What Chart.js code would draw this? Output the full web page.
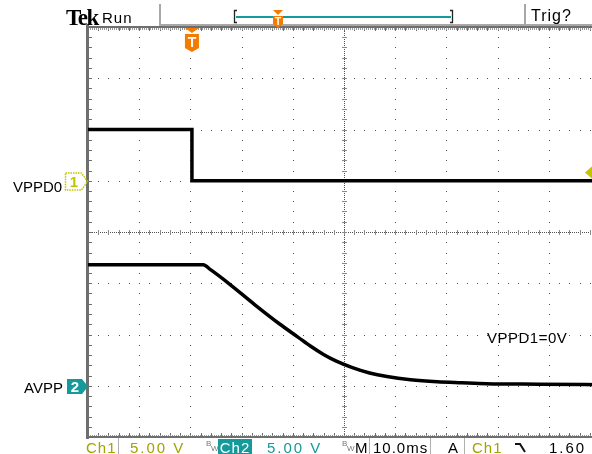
<!DOCTYPE html>
<html>
<head>
<meta charset="utf-8">
<script src="https://cdn.jsdelivr.net/npm/chart.js@4/dist/chart.umd.min.js"></script>
<style>
  body { margin: 0; width: 592px; height: 454px; overflow: hidden; background: #fff; position: relative;
         font-family: "Liberation Sans", Arial, sans-serif; }
  #scope { position: absolute; left: 0; top: 0; }
  .t { position: absolute; white-space: nowrap; line-height: 1; font-size: 15px; }
  .olive { color: #a3a300; }
  .teal { color: #149a9a; }
  .bw { position: absolute; font-size: 8px; line-height: 1; color: #777; }
</style>
</head>
<body>
<canvas id="scope" width="620" height="454"></canvas>

<div class="t" style="left:66px;top:5px;font:bold 23px 'Liberation Serif',serif;letter-spacing:-1.5px">Tek</div>
<div class="t" style="left:102px;top:10px;letter-spacing:1px">Run</div>
<div class="t" style="left:531px;top:8px;font-size:16px;letter-spacing:1px">Trig?</div>

<div class="t" style="left:13px;top:179px">VPPD0</div>
<div class="t" style="left:24px;top:380px">AVPP</div>
<div class="t" style="left:487px;top:330px;letter-spacing:0.5px">VPPD1=0V</div>

<div class="t olive" style="left:86px;top:440px;letter-spacing:1px">Ch1</div>
<div class="t olive" style="left:130px;top:440px;letter-spacing:2px">5.00 V</div>
<span class="bw" style="left:206px;top:440px">B</span><span class="bw" style="left:211px;top:445px">W</span>
<div class="t" style="left:218px;top:439px;width:34px;height:15px;background:#149a9a;color:#fff;text-align:center;padding-top:1px;box-sizing:border-box;letter-spacing:1px">Ch2</div>
<div class="t teal" style="left:267px;top:440px;letter-spacing:2px">5.00 V</div>
<span class="bw" style="left:342px;top:440px">B</span><span class="bw" style="left:347px;top:445px">W</span>
<div class="t" style="left:355px;top:440px">M</div>
<div class="t" style="left:373px;top:440px;letter-spacing:1px">10.0ms</div>
<div class="t" style="left:448px;top:440px">A</div>
<div class="t olive" style="left:472px;top:440px;letter-spacing:1px">Ch1</div>
<div class="t" style="left:549px;top:440px;letter-spacing:2px">1.60 V</div>

<script>
  'use strict';

  // Horizontal: 10 divisions of 10.0 ms, vertical: 8 divisions.
  var timeMin = 0;
  var timeMax = 100;
  var divMin = -4;
  var divMax = 4;

  // Channel settings: Ch1, Ch2.
  var voltsPerDiv = [5, 5];
  var groundDiv = [1, -3];
  var triggerTime = 20.3;
  var triggerMarkVolts = 0.8;

  // Ch1 (VPPD0) trace, ms / V.
  var ch1Time = [0, 20.3, 20.3, 100];
  var ch1Volts = [5.0, 5.0, 0.0, 0.0];

  // Ch2 (AVPP) trace, ms / V.
  var ch2Time = [0, 22.5, 24.0, 27.7, 32.6, 37.5, 41.0, 43.5, 46.0, 48.5, 51.5, 55.0, 58.4, 63.0, 68.2, 73.0, 77.9, 88.0, 100];
  var ch2Volts = [11.8, 11.8, 11.3, 9.9, 7.9, 6.0, 4.75, 3.85, 3.05, 2.4, 1.8, 1.25, 0.9, 0.59, 0.39, 0.29, 0.2, 0.15, 0.1];

  var TEAL = '#149a9a';
  var YELLOW = '#c4c400';
  var ORANGE = '#f47a00';

  function toPoints(times, volts, ch) {
    return times.map(function (t, i) {
      return { x: t, y: volts[i] / voltsPerDiv[ch] + groundDiv[ch] };
    });
  }

  // Dotted graticule, centre cross and frame ticks.
  var graticule = {
    id: 'graticule',
    beforeDatasetsDraw: function (chart) {
      var ctx = chart.ctx, a = chart.chartArea, xs = chart.scales.x, ys = chart.scales.y;
      var i, j, px, py;
      ctx.save();

      ctx.fillStyle = '#505050';
      for (i = 1; i < 10; i++) {
        if (i === 5) continue;
        px = Math.round(xs.getPixelForValue(i * 10));
        for (j = 0; j <= 40; j++) {
          py = Math.round(ys.getPixelForValue(divMin + j * 0.2));
          ctx.fillRect(px, py, 1, 1);
        }
      }
      for (i = -3; i <= 3; i++) {
        if (i === 0) continue;
        py = Math.round(ys.getPixelForValue(i));
        for (j = 0; j <= 50; j++) {
          px = Math.round(xs.getPixelForValue(j * 2));
          ctx.fillRect(px, py, 1, 1);
        }
      }

      // centre cross
      var cx = Math.round(xs.getPixelForValue(50));
      var cy = Math.round(ys.getPixelForValue(0));
      for (px = Math.round(a.left); px < a.right; px += 2) ctx.fillRect(px, cy, 1, 1);
      for (py = Math.round(a.top); py < a.bottom; py += 2) ctx.fillRect(cx, py, 1, 1);
      ctx.fillStyle = '#8a8a8a';
      for (j = 0; j <= 50; j++) {
        px = Math.round(xs.getPixelForValue(j * 2));
        ctx.fillRect(px, cy - 2, 1, 5);
      }
      for (j = 0; j <= 40; j++) {
        py = Math.round(ys.getPixelForValue(divMin + j * 0.2));
        ctx.fillRect(cx - 2, py, 5, 1);
      }

      // frame ticks
      ctx.fillStyle = '#707070';
      for (j = 0; j <= 50; j++) {
        px = Math.round(xs.getPixelForValue(j * 2));
        ctx.fillRect(px, a.top, 1, 4);
        ctx.fillRect(px, a.bottom - 4, 1, 4);
      }
      for (j = 0; j <= 40; j++) {
        py = Math.round(ys.getPixelForValue(divMin + j * 0.2));
        ctx.fillRect(a.left, py, 4, 1);
      }
      ctx.fillStyle = '#9a9a9a';
      for (px = Math.round(a.left); px < a.right; px += 2) {
        ctx.fillRect(px, a.top + 1, 1, 2);
        ctx.fillRect(px, a.bottom - 2, 1, 2);
      }

      // frame
      ctx.fillStyle = '#6e6e6e';
      ctx.fillRect(a.left - 2, a.top - 2, 3, a.bottom - a.top + 4);
      ctx.fillRect(a.left - 2, a.top - 1, a.right - a.left + 2, 2);
      ctx.fillRect(a.left - 2, a.bottom - 1, a.right - a.left + 2, 2);
      ctx.restore();
    }
  };

  function pentagon(ctx, x0, yc, w, h, tip) {
    ctx.beginPath();
    ctx.moveTo(x0, yc - h / 2);
    ctx.lineTo(x0 + w - tip, yc - h / 2);
    ctx.lineTo(x0 + w, yc);
    ctx.lineTo(x0 + w - tip, yc + h / 2);
    ctx.lineTo(x0, yc + h / 2);
    ctx.closePath();
  }

  function triggerT(ctx, x, top, w, h, font) {
    ctx.fillStyle = ORANGE;
    ctx.beginPath();
    ctx.moveTo(x - w / 2, top);
    ctx.lineTo(x + w / 2, top);
    ctx.lineTo(x, top + 5);
    ctx.closePath();
    ctx.fill();
    var bt = top + 6;
    ctx.beginPath();
    ctx.moveTo(x - w / 2, bt);
    ctx.lineTo(x + w / 2, bt);
    ctx.lineTo(x + w / 2, bt + h - 4);
    ctx.lineTo(x, bt + h);
    ctx.lineTo(x - w / 2, bt + h - 4);
    ctx.closePath();
    ctx.fill();
    ctx.fillStyle = '#fff';
    ctx.font = font;
    ctx.textAlign = 'center';
    ctx.textBaseline = 'middle';
    ctx.fillText('T', x, bt + h / 2);
  }

  var markers = {
    id: 'markers',
    afterDraw: function (chart) {
      var ctx = chart.ctx, a = chart.chartArea, xs = chart.scales.x, ys = chart.scales.y;
      ctx.save();

      // top status bar
      ctx.fillStyle = '#a8a8a8';
      ctx.fillRect(159, 4, 2, 22);
      ctx.fillRect(524, 4, 2, 22);
      ctx.fillRect(159, 24, 460, 2);
      ctx.strokeStyle = '#222';
      ctx.lineWidth = 1.3;
      ctx.beginPath();
      ctx.moveTo(237, 10.5); ctx.lineTo(234.5, 10.5); ctx.lineTo(234.5, 22.5); ctx.lineTo(237, 22.5);
      ctx.moveTo(450, 10.5); ctx.lineTo(452.5, 10.5); ctx.lineTo(452.5, 22.5); ctx.lineTo(450, 22.5);
      ctx.stroke();
      ctx.fillStyle = TEAL;
      ctx.fillRect(236, 16, 215, 2);
      triggerT(ctx, 278, 10, 10, 12, 'bold 10px "Liberation Sans", sans-serif');

      // trigger position marker
      triggerT(ctx, xs.getPixelForValue(triggerTime), a.top + 1, 14, 18, 'bold 14px "Liberation Sans", sans-serif');

      // Ch1 ground marker (outlined)
      var y1 = Math.round(ys.getPixelForValue(groundDiv[0])) + 0.5;
      pentagon(ctx, 65.5, y1, 22, 17, 6);
      ctx.strokeStyle = YELLOW;
      ctx.lineWidth = 1.5;
      ctx.setLineDash([1.5, 1]);
      ctx.stroke();
      ctx.setLineDash([]);
      ctx.fillStyle = YELLOW;
      ctx.font = 'bold 15px "Liberation Sans", sans-serif';
      ctx.textAlign = 'center';
      ctx.textBaseline = 'middle';
      ctx.fillText('1', 74, y1 + 1);

      // Ch2 ground marker (filled)
      var y2 = Math.round(ys.getPixelForValue(groundDiv[1])) + 0.5;
      pentagon(ctx, 67, y2, 21, 15, 6);
      ctx.fillStyle = TEAL;
      ctx.fill();
      ctx.fillStyle = '#fff';
      ctx.fillText('2', 75, y2 + 1);

      // trigger level diamond at right edge
      var yt = ys.getPixelForValue(triggerMarkVolts / voltsPerDiv[0] + groundDiv[0]);
      ctx.fillStyle = YELLOW;
      ctx.beginPath();
      ctx.moveTo(585, yt); ctx.lineTo(593, yt - 7); ctx.lineTo(601, yt); ctx.lineTo(593, yt + 7);
      ctx.closePath();
      ctx.fill();

      // falling-edge slope symbol
      ctx.strokeStyle = '#111';
      ctx.lineWidth = 2;
      ctx.beginPath();
      ctx.moveTo(515, 444); ctx.lineTo(520, 444); ctx.lineTo(525, 452);
      ctx.stroke();

      // bottom bar separators
      ctx.fillStyle = '#b0b0b0';
      ctx.fillRect(118, 438, 1, 16);
      ctx.fillRect(369, 438, 1, 16);
      ctx.fillRect(430, 438, 1, 16);
      ctx.fillRect(464, 438, 1, 16);
      ctx.restore();
    }
  };

  new Chart(document.getElementById('scope'), {
    type: 'scatter',
    data: {
      datasets: [
        {
          label: 'VPPD0',
          data: toPoints(ch1Time, ch1Volts, 0),
          showLine: true,
          borderColor: '#000',
          borderWidth: 3.5,
          pointRadius: 0,
          tension: 0
        },
        {
          label: 'AVPP',
          data: toPoints(ch2Time, ch2Volts, 1),
          showLine: true,
          borderColor: '#000',
          borderWidth: 3.5,
          pointRadius: 0,
          cubicInterpolationMode: 'monotone'
        }
      ]
    },
    options: {
      responsive: false,
      animation: false,
      devicePixelRatio: 1,
      layout: { padding: { left: 88, top: 27, right: 20, bottom: 17 } },
      plugins: { legend: { display: false }, tooltip: { enabled: false } },
      scales: {
        x: { type: 'linear', min: timeMin, max: timeMax, display: false },
        y: { type: 'linear', min: divMin, max: divMax, display: false }
      }
    },
    plugins: [graticule, markers]
  });
</script>
</body>
</html>
